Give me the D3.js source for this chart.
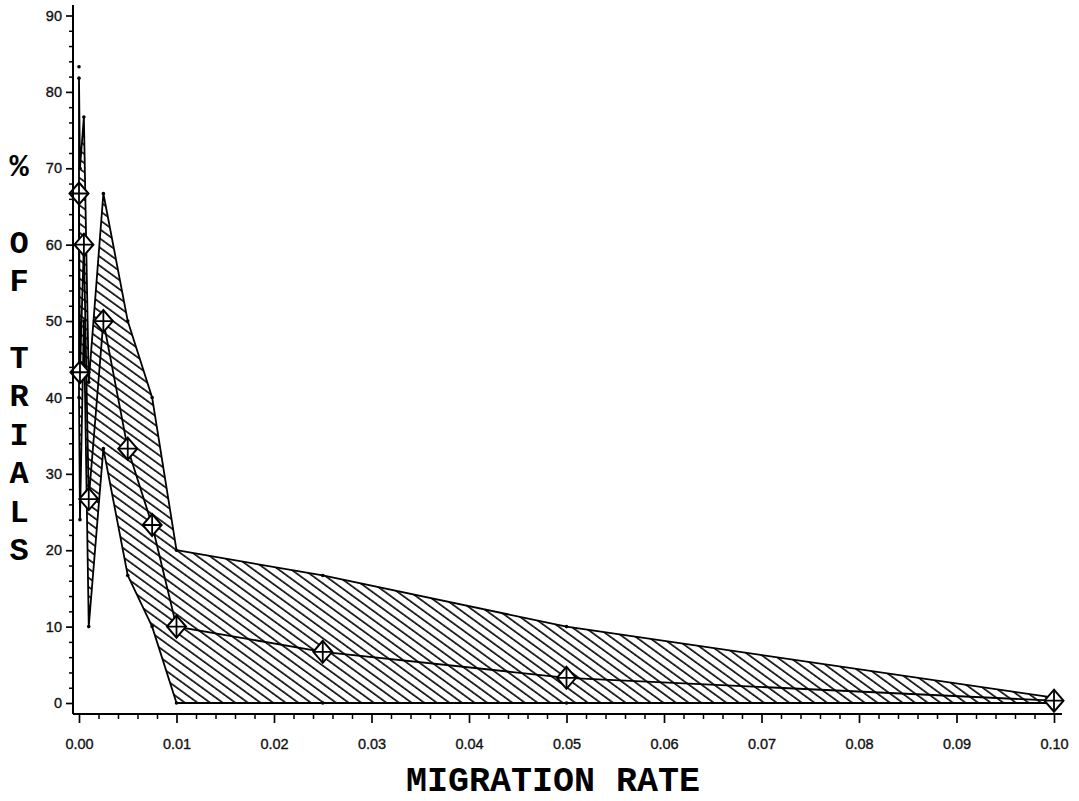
<!DOCTYPE html>
<html>
<head>
<meta charset="utf-8">
<script src="https://cdn.jsdelivr.net/npm/d3@7"></script>
<style>
  body { margin:0; background:#fff; }
  svg { display:block; }
  .tick text { font-family:"Liberation Sans", Arial, sans-serif; font-size:14.5px; fill:#111; stroke:#111; stroke-width:0.35px; }
</style>
</head>
<body>
<script>
// migration rate on x, % of trials on y
var migrationRates = [0, 0.0001, 0.0005, 0.001, 0.0025, 0.005, 0.0075, 0.01, 0.025, 0.05, 0.1];
var meanPct  = [66.7, 43.3, 60, 26.7, 50, 33.3, 23.3, 10, 6.7, 3.3, 0.3];
var upperPct = [81.8, 70, 76.7, 42, 66.7, 50, 40, 20, 16.7, 10, 0.7];
var lowerPct = [40, 24, 50, 10, 33.3, 16.7, 10, 0, 0, 0, 0];
var extraDots = [[0, 83.3]];

var xTicks = [0, 0.01, 0.02, 0.03, 0.04, 0.05, 0.06, 0.07, 0.08, 0.09, 0.10];
var yTicks = [0, 10, 20, 30, 40, 50, 60, 70, 80, 90];
var xTitle = "MIGRATION RATE";
var yTitle = "% OF TRIALS";

var width = 1079, height = 801;

var svg = d3.select("body").append("svg")
  .attr("width", width)
  .attr("height", height);

var xScale = d3.scaleLinear().domain([0, 0.1]).range([79, 1054]);
var yScale = d3.scaleLinear().domain([0, 90]).range([703, 15.5]);

var axisX = 73, axisY = 714;

// hatch pattern
var defs = svg.append("defs");
var pat = defs.append("pattern")
  .attr("id", "hatch")
  .attr("patternUnits", "userSpaceOnUse")
  .attr("width", 7.4).attr("height", 7.4)
  .attr("patternTransform", "rotate(36)");
pat.append("line")
  .attr("x1", 0).attr("y1", 1).attr("x2", 7.4).attr("y2", 1)
  .attr("stroke", "#000").attr("stroke-width", 1.6);

var pts = migrationRates.map(function(m, i){
  return {x:m, mean:meanPct[i], hi:upperPct[i], lo:lowerPct[i]};
});

var area = d3.area()
  .x(function(d){ return xScale(d.x); })
  .y0(function(d){ return yScale(d.lo); })
  .y1(function(d){ return yScale(d.hi); });

svg.append("path")
  .datum(pts)
  .attr("d", area)
  .attr("fill", "url(#hatch)")
  .attr("stroke", "#000")
  .attr("stroke-width", 1.8)
  .attr("stroke-linejoin", "round");

// little dots at band vertices
var dotData = [];
pts.forEach(function(d){ dotData.push([d.x, d.hi]); dotData.push([d.x, d.lo]); });
extraDots.forEach(function(d){ dotData.push(d); });
svg.selectAll(".vdot").data(dotData).enter().append("circle")
  .attr("class", "vdot")
  .attr("cx", function(d){ return xScale(d[0]); })
  .attr("cy", function(d){ return yScale(d[1]); })
  .attr("r", 1.8)
  .attr("fill", "#000");

// mean line
var line = d3.line()
  .x(function(d){ return xScale(d.x); })
  .y(function(d){ return yScale(d.mean); });

svg.append("path")
  .datum(pts)
  .attr("d", line)
  .attr("fill", "none")
  .attr("stroke", "#000")
  .attr("stroke-width", 1.8);

// diamonds with cross
var dw = 9.5, dh = 11;
svg.selectAll(".diamond").data(pts).enter().append("path")
  .attr("class", "diamond")
  .attr("transform", function(d){ return "translate(" + xScale(d.x) + "," + yScale(d.mean) + ")"; })
  .attr("d", "M0," + (-dh) + "L" + dw + ",0L0," + dh + "L" + (-dw) + ",0Z")
  .attr("fill", "#fff")
  .attr("stroke", "#000")
  .attr("stroke-width", 2);
svg.selectAll(".cross").data(pts).enter().append("path")
  .attr("class", "cross")
  .attr("transform", function(d){ return "translate(" + xScale(d.x) + "," + yScale(d.mean) + ")"; })
  .attr("d", "M0," + (-dh) + "V" + dh + "M" + (-dw) + ",0H" + dw)
  .attr("fill", "none")
  .attr("stroke", "#000")
  .attr("stroke-width", 1.8);

// axes lines
svg.append("line")
  .attr("x1", axisX).attr("x2", axisX).attr("y1", 5).attr("y2", axisY)
  .attr("stroke", "#000").attr("stroke-width", 2);
svg.append("line")
  .attr("x1", axisX).attr("x2", 1062).attr("y1", axisY).attr("y2", axisY)
  .attr("stroke", "#000").attr("stroke-width", 2);

// y ticks
var yMinor = d3.range(0, 91, 2).filter(function(v){ return v % 10 !== 0; });
var yAxis = d3.axisLeft(yScale).tickValues(yTicks).tickSize(7).tickPadding(4)
  .tickFormat(d3.format("d"));
var gy = svg.append("g").attr("transform", "translate(" + axisX + ",0)").call(yAxis);
gy.select(".domain").remove();
gy.selectAll(".tick line").attr("stroke-width", 1.7);
gy.selectAll(".tick text").attr("font-family", null).attr("font-size", null);
var gym = svg.append("g").attr("transform", "translate(" + axisX + ",0)")
  .call(d3.axisLeft(yScale).tickValues(yMinor).tickSize(4).tickFormat(""));
gym.select(".domain").remove();
gym.selectAll(".tick line").attr("stroke-width", 1.5);

// x ticks
var xMinor = d3.range(0, 51).map(function(i){ return i * 0.002; })
  .filter(function(v, i){ return i % 5 !== 0; });
var xAxis = d3.axisBottom(xScale).tickValues(xTicks).tickSize(9).tickPadding(16)
  .tickFormat(d3.format(".2f"));
var gx = svg.append("g").attr("transform", "translate(0," + axisY + ")").call(xAxis);
gx.select(".domain").remove();
gx.selectAll(".tick line").attr("stroke-width", 1.7);
gx.selectAll(".tick text").attr("font-family", null).attr("font-size", null);
var gxm = svg.append("g").attr("transform", "translate(0," + axisY + ")")
  .call(d3.axisBottom(xScale).tickValues(xMinor).tickSize(5).tickFormat(""));
gxm.select(".domain").remove();
gxm.selectAll(".tick line").attr("stroke-width", 1.5);

// titles
svg.append("text")
  .attr("x", 553).attr("y", 791)
  .attr("text-anchor", "middle")
  .attr("font-family", "Liberation Mono, Courier New, monospace")
  .attr("font-weight", "bold")
  .attr("font-size", 35)
  .text(xTitle);

var yt = svg.append("text")
  .attr("font-family", "Liberation Mono, Courier New, monospace")
  .attr("font-weight", "bold")
  .attr("font-size", 32)
  .attr("text-anchor", "middle");
yTitle.split("").forEach(function(ch, i){
  yt.append("tspan")
    .attr("x", 19)
    .attr("y", 176 + i * 38.4)
    .text(ch);
});
</script>
</body>
</html>
